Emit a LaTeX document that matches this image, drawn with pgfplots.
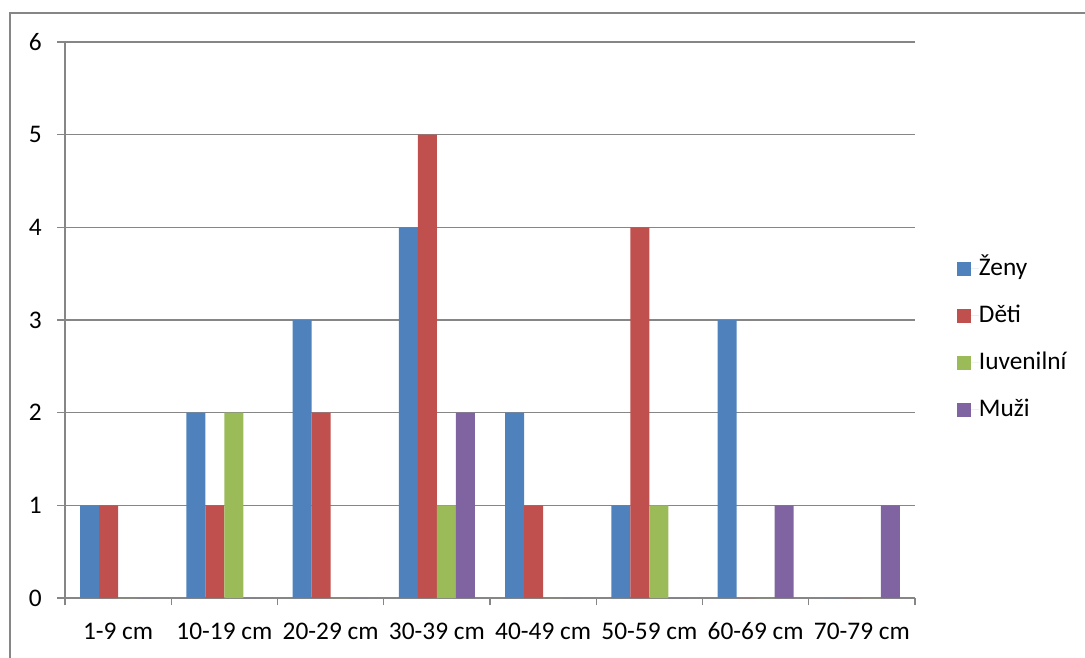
\documentclass[border=0pt]{standalone}
\usepackage{fontspec}
\setmainfont{Carlito}
\usepackage{pgfplots}
\pgfplotsset{compat=1.18}
\definecolor{cblue}{HTML}{4F81BD}
\definecolor{cred}{HTML}{C0504D}
\definecolor{cgreen}{HTML}{9BBB59}
\definecolor{cpurple}{HTML}{8064A2}
\definecolor{cgrid}{RGB}{134,134,134}
\begin{document}
\begin{tikzpicture}
\useasboundingbox (0,0) rectangle (813.75pt,492.75pt);
\draw[cgrid, line width=1.5pt] (7.5pt,-5pt) -- (7.5pt,483pt) -- (820pt,483pt);
\begin{axis}[
  at={(48.75pt,44.25pt)}, anchor=south west,
  scale only axis, width=637.5pt, height=417pt,
  ybar=0pt, bar width=14.25pt,
  xmin=-0.5, xmax=7.5, ymin=0, ymax=6,
  xtick={0,...,7},
  xticklabels={1-9 cm,10-19 cm,20-29 cm,30-39 cm,40-49 cm,50-59 cm,60-69 cm,70-79 cm},
  minor xtick={-0.5,0.5,...,7.5},
  ytick={0,...,6},
  major x tick style={draw=none},
  minor x tick style={cgrid, line width=1pt},
  y tick style={cgrid, line width=1pt},
  tick align=outside,
  xtick pos=bottom, ytick pos=left,
  major tick length=6pt, minor tick length=5.5pt,
  ymajorgrids, grid style={cgrid, line width=0.9pt},
  axis x line*=bottom, axis y line*=left,
  axis line style={cgrid, line width=1pt, -},
  /pgf/number format/assume math mode=true,
  ticklabel style={font=\fontsize{19}{23}\selectfont},
  xticklabel style={yshift=-9pt},
  yticklabel style={xshift=-8pt},
  legend style={draw=none, fill=none, at={(1.049,0.465)}, anchor=west,
    font=\fontsize{19}{23}\selectfont, row sep=16pt, inner sep=0pt,
    nodes={inner sep=0pt, text height=14.5pt, text depth=4.75pt}},
  legend cell align=left,
  legend image code/.code={\fill (0pt,-5.25pt) rectangle (10.5pt,5.25pt); \path (0pt,0pt) -- (16.5pt,0pt);},
  every axis plot/.append style={draw=none},
]
\addplot[fill=cblue] coordinates {(0,1) (1,2) (2,3) (3,4) (4,2) (5,1) (6,3) (7,0)};
\addplot[fill=cred] coordinates {(0,1) (1,1) (2,2) (3,5) (4,1) (5,4) (6,0) (7,0)};
\addplot[fill=cgreen] coordinates {(0,0) (1,2) (2,0) (3,1) (4,0) (5,1) (6,0) (7,0)};
\addplot[fill=cpurple] coordinates {(0,0) (1,0) (2,0) (3,2) (4,0) (5,0) (6,1) (7,1)};
\legend{Ženy,Děti,Iuvenilní,Muži}
\end{axis}
\end{tikzpicture}
\end{document}
